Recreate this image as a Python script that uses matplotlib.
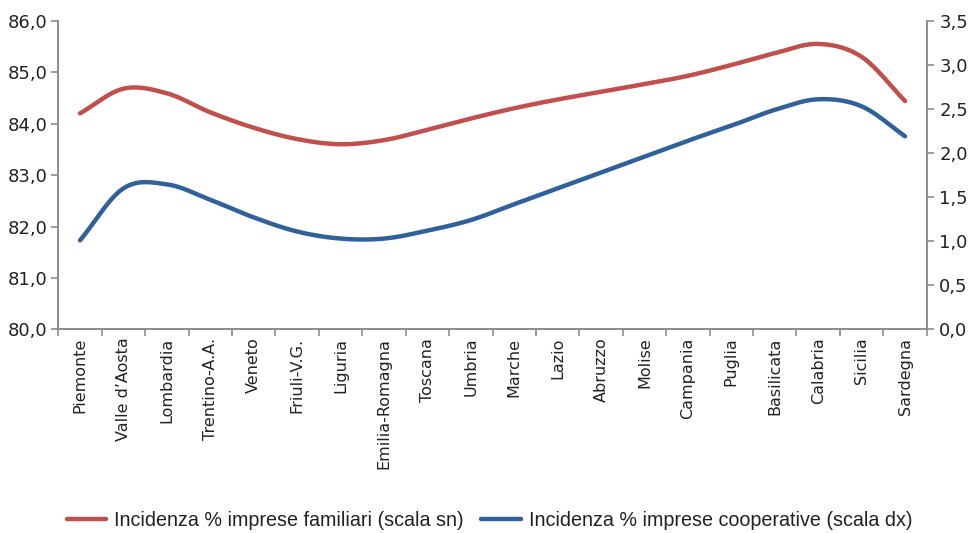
import numpy as np
import matplotlib
matplotlib.use("Agg")
import matplotlib.pyplot as plt
from matplotlib.ticker import FuncFormatter, FixedLocator

regions = ["Piemonte", "Valle d\u2019Aosta", "Lombardia", "Trentino-A.A.", "Veneto",
           "Friuli-V.G.", "Liguria", "Emilia-Romagna", "Toscana", "Umbria",
           "Marche", "Lazio", "Abruzzo", "Molise", "Campania", "Puglia",
           "Basilicata", "Calabria", "Sicilia", "Sardegna"]

# incidenza % imprese familiari (asse sinistro)
familiari = [84.20, 84.68, 84.59, 84.22, 83.92, 83.70, 83.60, 83.68, 83.88, 84.10,
             84.30, 84.47, 84.62, 84.77, 84.93, 85.14, 85.37, 85.55, 85.30, 84.44]
# incidenza % imprese cooperative (asse destro)
cooperative = [1.01, 1.60, 1.645, 1.47, 1.27, 1.11, 1.03, 1.03, 1.12, 1.24,
               1.42, 1.60, 1.78, 1.96, 2.14, 2.31, 2.49, 2.61, 2.53, 2.19]

red = "#C0504D"
blue = "#31619A"
grey = "#8C8C8C"
txt = "#222222"


def smooth(x, y, n=30):
    # catmull-rom, like the "smoothed line" option of spreadsheet charts
    x = np.asarray(x, float)
    y = np.asarray(y, float)
    px = np.concatenate([[2 * x[0] - x[1]], x, [2 * x[-1] - x[-2]]])
    py = np.concatenate([[2 * y[0] - y[1]], y, [2 * y[-1] - y[-2]]])
    xs, ys = [], []
    t = np.linspace(0, 1, n, endpoint=False)
    for i in range(1, len(px) - 2):
        for p, out in ((px, xs), (py, ys)):
            p0, p1, p2, p3 = p[i - 1], p[i], p[i + 1], p[i + 2]
            out.extend(0.5 * (2 * p1 + (-p0 + p2) * t
                              + (2 * p0 - 5 * p1 + 4 * p2 - p3) * t ** 2
                              + (-p0 + 3 * p1 - 3 * p2 + p3) * t ** 3))
    xs.append(x[-1])
    ys.append(y[-1])
    return np.array(xs), np.array(ys)


plt.rcParams['font.family'] = ['DejaVu Sans']

fig = plt.figure(figsize=(9.79, 5.33), dpi=100)
ax = fig.add_axes([0.0596, 0.382, 0.887, 0.579])
ax2 = ax.twinx()

x = np.arange(len(regions))
sx, sy = smooth(x, familiari)
ax.plot(sx, sy, color=red, lw=3.2, solid_capstyle='round')
sx, sy = smooth(x, cooperative)
ax2.plot(sx, sy, color=blue, lw=3.2, solid_capstyle='round')

ax.set_xlim(-0.5, len(regions) - 0.5)
ax.set_ylim(80, 86)
ax.set_yticks(np.arange(80, 86.01, 1))
ax2.set_ylim(0, 3.5)
ax2.set_yticks(np.arange(0, 3.51, 0.5))

comma1 = FuncFormatter(lambda v, p: f"{v:.1f}".replace(".", ","))
ax.yaxis.set_major_formatter(comma1)
ax2.yaxis.set_major_formatter(comma1)

ax.set_xticks(x)
ax.set_xticklabels(regions, rotation=90, fontsize=11.5, color=txt)
ax.tick_params(axis='x', which='major', length=0, pad=6)
ax.xaxis.set_minor_locator(FixedLocator(np.arange(-0.5, len(regions), 1)))
ax.tick_params(axis='x', which='minor', length=5, width=1.2, color=grey, direction='out')

ax.tick_params(axis='y', length=5, width=1.2, color=grey, labelsize=13, labelcolor=txt, pad=3)
ax2.tick_params(axis='y', length=5, width=1.2, color=grey, labelsize=13, labelcolor=txt, pad=4)

for a in (ax, ax2):
    a.spines['top'].set_visible(False)
    for s in ('left', 'right', 'bottom'):
        a.spines[s].set_color(grey)
        a.spines[s].set_linewidth(1.2)

h1, = ax.plot([], [], color=red, lw=3.2, solid_capstyle='round')
h2, = ax.plot([], [], color=blue, lw=3.2, solid_capstyle='round')
fig.legend([h1, h2],
           ["Incidenza % imprese familiari (scala sn)",
            "Incidenza % imprese cooperative (scala dx)"],
           loc='center', bbox_to_anchor=(0.5, 0.024), ncol=2, frameon=False,
           handlelength=2.0, handletextpad=0.4, columnspacing=0.9,
           prop={'family': 'Liberation Sans', 'size': 14.2}, labelcolor=txt)

fig.savefig("out.png", dpi=100)
